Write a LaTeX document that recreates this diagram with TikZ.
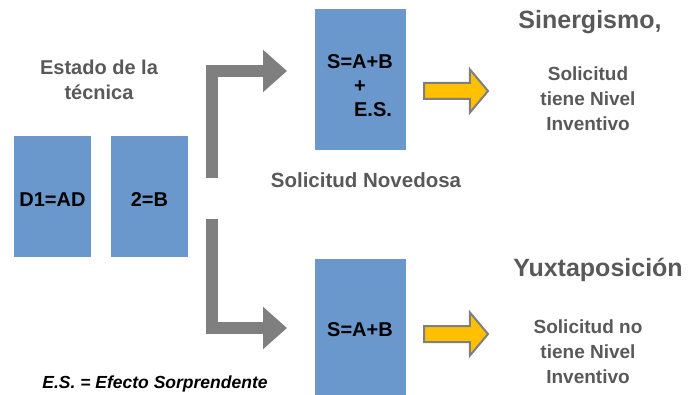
\documentclass[tikz,border=0pt]{standalone}
\usepackage{fontspec}
\setmainfont{Liberation Sans}
\usetikzlibrary{arrows.meta,shapes.arrows}
\definecolor{boxblue}{RGB}{106,152,204}
\definecolor{flowgray}{RGB}{127,127,127}
\definecolor{textgray}{RGB}{89,89,89}
\definecolor{gold}{RGB}{255,192,0}
\tikzset{
  card/.style={fill=boxblue, draw=none, inner sep=0pt},
  cardtext/.style={font=\fontsize{20}{24}\selectfont\bfseries, text=black, align=center, inner sep=0pt},
  caption/.style={font=\fontsize{20}{25}\selectfont\bfseries, text=textgray, align=center, inner sep=0pt},
  verdict/.style={font=\fontsize{19}{25}\selectfont\bfseries, text=textgray, align=center, inner sep=0pt},
  heading/.style={font=\fontsize{25}{28}\selectfont\bfseries, text=textgray, inner sep=0pt},
  blockarrow/.style={draw=flowgray, line width=12pt, line join=miter,
    -{Triangle[length=24pt, width=41pt]}},
  goldarrow/.style={single arrow, fill=gold, draw=flowgray, line width=2pt,
    inner xsep=0pt, inner ysep=7pt, single arrow head extend=13.5pt,
    single arrow tip angle=100, minimum height=64pt, anchor=west},
}
\begin{document}
\begin{tikzpicture}[x=1pt, y=-1pt]
  \useasboundingbox (0,0) rectangle (692,395);

  % prior-art documents
  \node[card, minimum width=77pt, minimum height=121pt] (d1) at (52.5,196.5) {};
  \node[card, minimum width=77pt, minimum height=121pt] (d2) at (149.5,196.5) {};
  \node[cardtext] (d1t) at (52.5,200) {D1=AD};
  \node[cardtext] (d2t) at (149.5,200) {2=B};
  \node[caption] (prior) at (99,80) {Estado de la\\técnica};

  % combined results
  \node[card, minimum width=91pt, minimum height=141pt] (syn) at (360.5,79.5) {};
  \node[cardtext] (synt) at (360,86) {S=A+B\\+\\\hspace*{26pt}E.S.};
  \node[card, minimum width=91pt, minimum height=136pt] (jux) at (360.5,327) {};
  \node[cardtext] (juxt) at (360,330) {S=A+B};

  \node[caption, font=\fontsize{20.5}{25}\selectfont\bfseries] (novel) at (366,180) {Solicitud Novedosa};

  % branching arrows
  \coordinate (upstart) at (212,178);
  \coordinate (upcorner) at (212,71);
  \coordinate (upend) at (287,71);
  \coordinate (downstart) at (212,219);
  \coordinate (downcorner) at (212,328);
  \coordinate (downend) at (287,328);
  \draw[blockarrow] (upstart) -- (upcorner) -- (upend);
  \draw[blockarrow] (downstart) -- (downcorner) -- (downend);

  % outcome arrows
  \node[goldarrow] (synarrow) at (423,91) {};
  \node[goldarrow] (juxarrow) at (423,334) {};

  % outcomes
  \node[heading] (synhead) at (590,22) {Sinergismo,};
  \node[verdict] (synres) at (588,99) {Solicitud\\tiene Nivel\\Inventivo};
  \node[heading] (juxhead) at (598,270) {Yuxtaposición};
  \node[verdict] (juxres) at (588,352) {Solicitud no\\tiene Nivel\\Inventivo};

  % footnote
  \node[font=\fontsize{17.5}{20}\selectfont\bfseries\itshape, text=black, inner sep=0pt] (note) at (155,384) {E.S. = Efecto Sorprendente};
\end{tikzpicture}
\end{document}
